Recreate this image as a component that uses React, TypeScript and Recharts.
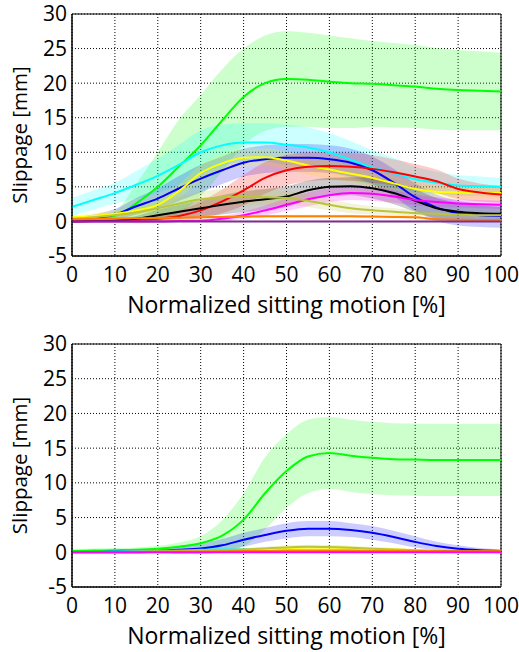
import {
  Area,
  CartesianGrid,
  ComposedChart,
  Line,
  ReferenceArea,
  XAxis,
  YAxis,
} from "recharts";

// normalized sitting motion [%]
const motion = [0, 5, 10, 15, 20, 25, 30, 35, 40, 45, 50, 55, 60, 65, 70, 75, 80, 85, 90, 95, 100];
const xTicks = [0, 10, 20, 30, 40, 50, 60, 70, 80, 90, 100];
const yTicks = [-5, 0, 5, 10, 15, 20, 25, 30];

// upper panel: mean slippage [mm] and spread
const upGreen = [0.2, 0.4, 0.8, 2.6, 5.0, 8.0, 11.0, 14.6, 18.0, 20.0, 20.6, 20.5, 20.2, 20.0, 19.9, 19.7, 19.5, 19.2, 19.0, 18.9, 18.8];
const upGreenSd = [0.3, 0.4, 0.7, 2.9, 5.0, 6.8, 7.3, 7.4, 7.0, 6.9, 6.9, 6.8, 6.7, 6.5, 6.2, 6.1, 6.0, 5.9, 5.8, 5.7, 5.6];
const upCyan = [2.1, 3.1, 4.1, 5.3, 6.6, 8.2, 10.0, 11.0, 11.4, 11.4, 11.1, 10.7, 10.0, 8.9, 7.8, 7.0, 6.1, 5.6, 5.2, 5.1, 5.0];
const upCyanSd = [1.3, 1.4, 1.5, 2.0, 2.5, 2.9, 3.2, 3.0, 2.8, 2.8, 2.9, 2.9, 2.8, 2.7, 2.5, 2.2, 1.8, 1.6, 1.5, 1.4, 1.3];
const upBlue = [0.3, 0.5, 1.0, 2.2, 3.3, 4.8, 6.2, 7.4, 8.5, 9.0, 9.2, 9.2, 9.0, 8.5, 7.4, 5.6, 3.5, 2.0, 1.2, 0.9, 0.8];
const upBlueSd = [0.3, 0.5, 0.8, 1.2, 1.5, 1.8, 2.0, 2.0, 2.0, 2.0, 2.0, 2.0, 2.0, 2.0, 2.0, 2.0, 2.0, 1.9, 1.8, 1.7, 1.7];
const upYellow = [0.6, 0.8, 1.1, 1.6, 2.4, 4.4, 7.0, 8.4, 9.2, 9.3, 8.8, 8.1, 7.5, 6.9, 6.3, 5.5, 4.7, 4.3, 4.2, 4.1, 4.1];
const upYellowSd = [0.3, 0.4, 0.5, 0.6, 0.8, 1.0, 1.2, 1.3, 1.3, 1.3, 1.3, 1.3, 1.3, 1.2, 1.2, 1.1, 1.0, 0.9, 0.9, 0.8, 0.8];
const upRed = [0, 0.05, 0.1, 0.2, 0.4, 0.8, 1.6, 2.9, 4.5, 6.3, 7.4, 7.9, 8.0, 7.9, 7.6, 7.1, 6.5, 5.8, 4.7, 4.2, 3.9];
const upRedSd = [0.1, 0.1, 0.2, 0.3, 0.5, 0.8, 1.2, 1.7, 2.2, 2.3, 2.2, 2.1, 2.0, 2.0, 2.0, 1.9, 1.8, 1.7, 1.5, 1.3, 1.2];
const upBlack = [0, 0.05, 0.15, 0.4, 0.9, 1.4, 1.9, 2.4, 2.85, 3.2, 3.6, 4.5, 5.0, 5.1, 4.8, 4.1, 3.0, 1.9, 1.4, 1.2, 1.1];
const upBlackSd = [0.1, 0.1, 0.2, 0.4, 0.8, 1.0, 1.2, 1.4, 1.5, 1.5, 1.5, 1.4, 1.3, 1.3, 1.5, 1.6, 1.6, 1.5, 1.3, 1.1, 1.0];
const upMagenta = [0, 0, 0, 0, 0, 0.05, 0.1, 0.4, 0.9, 1.6, 2.4, 3.2, 3.8, 4.1, 4.0, 3.6, 3.1, 2.8, 2.6, 2.5, 2.4];
const upMagentaSd = [0.05, 0.05, 0.05, 0.05, 0.1, 0.1, 0.2, 0.4, 0.5, 0.7, 0.9, 1.0, 1.0, 1.0, 1.0, 0.9, 0.8, 0.7, 0.6, 0.6, 0.6];
const upOlive = [0.4, 0.6, 0.9, 1.3, 1.9, 2.6, 3.2, 3.5, 3.6, 3.5, 3.4, 3.0, 2.4, 1.9, 1.6, 1.4, 1.2, 1.1, 1.0, 0.9, 0.9];
const upOliveSd = [0.2, 0.3, 0.4, 0.6, 0.8, 1.0, 1.1, 1.2, 1.2, 1.1, 1.0, 0.9, 0.8, 0.7, 0.6, 0.5, 0.5, 0.4, 0.4, 0.4, 0.4];
const upOrange = [0.3, 0.35, 0.4, 0.45, 0.5, 0.55, 0.6, 0.65, 0.7, 0.75, 0.75, 0.75, 0.75, 0.75, 0.7, 0.65, 0.6, 0.3, 0.25, 0.2, 0.2];
const upOrangeSd = [0.2, 0.2, 0.2, 0.2, 0.2, 0.2, 0.2, 0.2, 0.2, 0.2, 0.2, 0.2, 0.2, 0.2, 0.2, 0.2, 0.2, 0.2, 0.2, 0.2, 0.2];
const upPurple = [0, 0, 0, 0, 0, 0, 0, 0, 0, 0, 0, 0, 0, 0, 0, 0, 0, 0, 0, 0, 0];
const upPurpleSd = [0.1, 0.1, 0.1, 0.1, 0.1, 0.1, 0.1, 0.1, 0.1, 0.1, 0.1, 0.1, 0.1, 0.1, 0.1, 0.1, 0.1, 0.1, 0.1, 0.1, 0.1];

// lower panel
const loGreen = [0.2, 0.25, 0.3, 0.35, 0.5, 0.8, 1.3, 2.4, 4.7, 8.5, 11.7, 13.8, 14.3, 13.9, 13.6, 13.4, 13.35, 13.3, 13.3, 13.3, 13.3];
const loGreenSd = [0.3, 0.3, 0.3, 0.35, 0.4, 0.6, 1.0, 2.2, 3.8, 5.2, 5.3, 5.3, 5.2, 5.2, 5.2, 5.2, 5.2, 5.2, 5.2, 5.2, 5.2];
const loBlue = [0.05, 0.05, 0.1, 0.15, 0.2, 0.35, 0.55, 1.0, 1.8, 2.5, 3.1, 3.4, 3.4, 3.2, 2.8, 2.2, 1.5, 0.9, 0.5, 0.3, 0.2];
const loBlueSd = [0.05, 0.1, 0.1, 0.2, 0.3, 0.6, 0.8, 0.9, 1.0, 1.0, 1.1, 1.1, 1.1, 1.0, 1.0, 0.9, 0.8, 0.6, 0.5, 0.3, 0.2];
const loYellow = [0, 0, 0, 0.02, 0.05, 0.1, 0.15, 0.2, 0.3, 0.45, 0.6, 0.7, 0.7, 0.6, 0.5, 0.4, 0.3, 0.2, 0.15, 0.1, 0.1];
const loYellowSd = [0, 0, 0, 0.05, 0.05, 0.1, 0.1, 0.15, 0.2, 0.25, 0.3, 0.3, 0.3, 0.3, 0.25, 0.2, 0.15, 0.1, 0.1, 0.05, 0.05];
const loOlive = [0.05, 0.05, 0.05, 0.1, 0.1, 0.15, 0.2, 0.3, 0.4, 0.55, 0.7, 0.8, 0.75, 0.65, 0.5, 0.4, 0.3, 0.2, 0.15, 0.1, 0.1];
const loOliveSd = [0.05, 0.05, 0.05, 0.05, 0.05, 0.1, 0.1, 0.15, 0.2, 0.25, 0.3, 0.3, 0.3, 0.3, 0.25, 0.2, 0.15, 0.1, 0.1, 0.05, 0.05];
const loCyan = [0.05, 0.05, 0.1, 0.15, 0.2, 0.25, 0.35, 0.4, 0.4, 0.35, 0.3, 0.3, 0.3, 0.3, 0.3, 0.25, 0.2, 0.15, 0.1, 0.1, 0.1];
const loCyanSd = [0.05, 0.05, 0.05, 0.05, 0.05, 0.05, 0.1, 0.1, 0.1, 0.1, 0.1, 0.1, 0.1, 0.1, 0.1, 0.1, 0.05, 0.05, 0.05, 0.05, 0.05];
const loOrange = [0.05, 0.05, 0.05, 0.05, 0.1, 0.1, 0.1, 0.15, 0.15, 0.2, 0.2, 0.2, 0.2, 0.2, 0.2, 0.2, 0.2, 0.15, 0.1, 0.1, 0.1];
const loOrangeSd = [0.25, 0.25, 0.25, 0.25, 0.25, 0.25, 0.25, 0.25, 0.25, 0.25, 0.25, 0.25, 0.25, 0.25, 0.25, 0.25, 0.25, 0.25, 0.25, 0.25, 0.25];
const loRed = [0, 0, 0, 0, 0.05, 0.05, 0.05, 0.05, 0.1, 0.1, 0.1, 0.1, 0.1, 0.1, 0.1, 0.1, 0.1, 0.1, 0.1, 0.1, 0.1];
const loMagenta = [0, 0, 0, 0, 0, 0, 0, 0, 0, 0, 0, 0, 0, 0, 0, 0, 0, 0, 0, 0, 0];
const loSmallSd = [0.05, 0.05, 0.05, 0.05, 0.05, 0.05, 0.05, 0.05, 0.05, 0.05, 0.05, 0.05, 0.05, 0.05, 0.05, 0.05, 0.05, 0.05, 0.05, 0.05, 0.05];

type Series = { key: string; color: string; mean: number[]; sd: number[] };

const upperSeries: Series[] = [
  { key: "green", color: "#00ff00", mean: upGreen, sd: upGreenSd },
  { key: "cyan", color: "#00ffff", mean: upCyan, sd: upCyanSd },
  { key: "blue", color: "#0000ff", mean: upBlue, sd: upBlueSd },
  { key: "yellow", color: "#ffff00", mean: upYellow, sd: upYellowSd },
  { key: "red", color: "#ff0000", mean: upRed, sd: upRedSd },
  { key: "black", color: "#000000", mean: upBlack, sd: upBlackSd },
  { key: "magenta", color: "#ff00ff", mean: upMagenta, sd: upMagentaSd },
  { key: "olive", color: "#bcc43a", mean: upOlive, sd: upOliveSd },
  { key: "orange", color: "#ff8000", mean: upOrange, sd: upOrangeSd },
  { key: "purple", color: "#7e2f8e", mean: upPurple, sd: upPurpleSd },
];

const lowerSeries: Series[] = [
  { key: "green", color: "#00ff00", mean: loGreen, sd: loGreenSd },
  { key: "blue", color: "#0000ff", mean: loBlue, sd: loBlueSd },
  { key: "cyan", color: "#00ffff", mean: loCyan, sd: loCyanSd },
  { key: "yellow", color: "#ffff00", mean: loYellow, sd: loYellowSd },
  { key: "olive", color: "#bcc43a", mean: loOlive, sd: loOliveSd },
  { key: "red", color: "#ff0000", mean: loRed, sd: loSmallSd },
  { key: "orange", color: "#ff8000", mean: loOrange, sd: loOrangeSd },
  { key: "magenta", color: "#ff00ff", mean: loMagenta, sd: loSmallSd },
];

const font = { fill: "#000", fontSize: 21, fontFamily: "'Open Sans'" };

function Panel({
  series,
  height,
  top,
  xAxisHeight,
  labelOffset,
}: {
  series: Series[];
  height: number;
  top: number;
  xAxisHeight: number;
  labelOffset: number;
}) {
  const data = motion.map((m, i) => {
    const row: any = { motion: m };
    series.forEach((s) => {
      row[s.key] = s.mean[i];
      row[s.key + "Band"] = [s.mean[i] - s.sd[i], s.mean[i] + s.sd[i]];
    });
    return row;
  });

  return (
    <ComposedChart
      width={519}
      height={height}
      data={data}
      margin={{ top, right: 18, left: 0, bottom: 0 }}
    >
      <CartesianGrid stroke="#000" strokeDasharray="1 2" />
      <XAxis
        dataKey="motion"
        type="number"
        domain={[0, 100]}
        ticks={xTicks}
        height={xAxisHeight}
        tick={font}
        tickSize={0}
        tickMargin={11}
        axisLine={{ stroke: "#000" }}
        label={{
          value: "Normalized sitting motion [%]",
          position: "insideBottom",
          offset: labelOffset,
          style: { ...font, fontSize: 23 },
        }}
      />
      <YAxis
        type="number"
        domain={[-5, 30]}
        ticks={yTicks}
        width={72}
        tick={font}
        tickSize={0}
        tickMargin={5}
        axisLine={{ stroke: "#000" }}
        label={{
          value: "Slippage [mm]",
          angle: -90,
          position: "insideLeft",
          offset: 20,
          style: { ...font, fontSize: 20.5, textAnchor: "middle" },
        }}
      />
      {series.map((s) => (
        <Area
          key={s.key + "Band"}
          dataKey={s.key + "Band"}
          type="monotone"
          stroke="none"
          fill={s.color}
          fillOpacity={0.2}
          isAnimationActive={false}
        />
      ))}
      {series.map((s) => (
        <Line
          key={s.key}
          dataKey={s.key}
          type="monotone"
          stroke={s.color}
          strokeWidth={2}
          dot={false}
          isAnimationActive={false}
        />
      ))}
      <ReferenceArea
        x1={0}
        x2={100}
        y1={-5}
        y2={30}
        fill="none"
        stroke="#000"
        ifOverflow="visible"
      />
    </ComposedChart>
  );
}

export default function App() {
  return (
    <div style={{ position: "absolute", left: 0, top: 0, width: 519, height: 652, background: "#fff" }}>
      <div style={{ position: "absolute", left: 0, top: 0 }}>
        <Panel series={upperSeries} height={326} top={14} xAxisHeight={70} labelOffset={13} />
      </div>
      <div style={{ position: "absolute", left: 0, top: 320 }}>
        <Panel series={lowerSeries} height={332} top={24} xAxisHeight={65} labelOffset={8} />
      </div>
    </div>
  );
}
